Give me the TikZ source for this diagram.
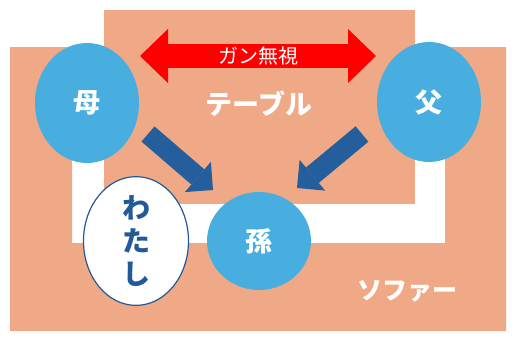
\documentclass[tikz,border=0pt]{standalone}
\usepackage{fontspec}
\usepackage{xcolor}
\usepackage{tikz}
\usetikzlibrary{positioning,shapes.geometric,arrows.meta}
\newfontfamily\jp{Noto Sans CJK JP}
\definecolor{sofacol}{RGB}{240,169,134}
\definecolor{personblue}{RGB}{72,174,223}
\definecolor{arrowblue}{RGB}{36,94,156}
\definecolor{textblue}{RGB}{34,89,152}

\begin{document}
\begin{tikzpicture}[x=1pt,y=-1pt,
	person/.style={ellipse,fill=personblue,inner sep=0pt,minimum width=104pt,minimum height=120pt,text=white,font=\jp\bfseries\fontsize{27}{27}\selectfont},
	kin/.style={line width=20pt,arrowblue,-{Triangle[width=40pt,length=20pt,line width=0pt]}},
	furniture/.style={text=white,inner sep=0pt}]
			
			\useasboundingbox (0,0) rectangle (517,341);
			
			% sofa and table
			\fill[sofacol] (10,47) -- (72,47) -- (72,243) -- (445,243) -- (445,47) -- (506,47) -- (506,331) -- (10,331) -- cycle;
			\fill[sofacol] (104,10) rectangle (415,204);
			
			\node[furniture,font=\jp\bfseries\fontsize{27}{27}\selectfont] (table) at (259,104) {テーブル};
			\node[furniture,font=\jp\bfseries\fontsize{25}{25}\selectfont] (sofa) at (407,291) {ソファー};
			
			\node[person] (haha) at (87,103) {母};
			\node[person] (chichi) at (429,102) {父};
			\node[person,minimum height=98pt] (mago) at (259,241) {孫};
			\node[ellipse,draw=textblue,line width=1.2pt,fill=white,inner sep=0pt,minimum width=105pt,minimum height=121pt,align=center,text=textblue,font=\jp\bfseries\fontsize{28}{33}\selectfont] (watashi) at (136,241) {わ\\た\\し};
			
			\coordinate (gan-l) at (140,56);
			\coordinate (gan-r) at (376,56);
			\coordinate (haha-out) at (148,134);
			\coordinate (haha-in) at (213,190);
			\coordinate (chichi-out) at (362,134);
			\coordinate (chichi-in) at (297,188);
			
			\draw[line width=24pt,red,{Triangle[width=54pt,length=28pt,line width=0pt]}-{Triangle[width=54pt,length=28pt,line width=0pt]}] (gan-l)-- node[text=white,font=\jp\fontsize{20}{20}\selectfont]{ガン無視} (gan-r);
			\draw[kin] (haha-out)-- (haha-in);
			\draw[kin] (chichi-out)-- (chichi-in);
			
		\end{tikzpicture}
\end{document}
